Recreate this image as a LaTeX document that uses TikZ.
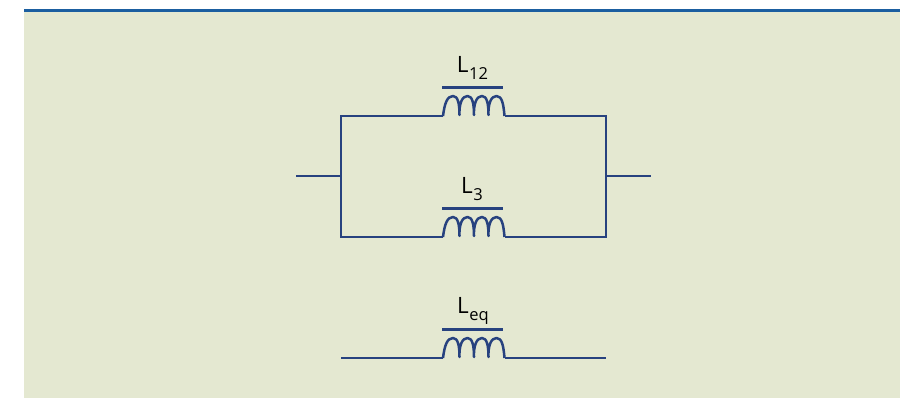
\documentclass[tikz,border=0pt]{standalone}
\usepackage{fontspec}
\setmainfont{Open Sans}
\definecolor{panel}{HTML}{E4E8D1}
\definecolor{bar}{HTML}{1B5EA0}
\definecolor{wire}{HTML}{27427F}
\newcommand{\lab}[2]{{\fontsize{22.5}{22.5}\selectfont L}\kern0.5pt{\fontsize{16.5}{16.5}\selectfont\raisebox{-7pt}{#2}}}
\tikzset{
  wireline/.style={draw=wire,line width=2.2pt,line join=miter},
  coilline/.style={draw=wire,line width=2.5pt,line join=round},
  barline/.style={draw=wire,line width=2.5pt},
  valuelabel/.style={inner sep=0pt,text=black,anchor=base}
}
% #1 name prefix, #2 baseline y; coil x range 443--504
\newcommand{\coil}[2]{%
  \coordinate (#1in) at (443,#2);
  \coordinate (#1out) at (504.5,#2);
  \draw[coilline] (#1in)
    .. controls (444.5,#2-12) and (447,#2-20) .. (453,#2-20)
    .. controls (458,#2-20) and (459.5,#2-12) .. (459.5,#2-1)
    .. controls (459,#2-12) and (462,#2-20) .. (467.5,#2-20)
    .. controls (472.5,#2-20) and (474,#2-12) .. (474,#2-1)
    .. controls (473.5,#2-12) and (476.5,#2-20) .. (482,#2-20)
    .. controls (487,#2-20) and (488.5,#2-12) .. (488.5,#2-1)
    .. controls (488,#2-12) and (491,#2-20) .. (496.5,#2-20)
    .. controls (502,#2-20) and (503.5,#2-12) .. (#1out);
  \coordinate (#1barl) at (442,#2-28.7);
  \coordinate (#1barr) at (503,#2-28.7);
  \draw[barline] (#1barl) -- (#1barr);
}
\begin{document}
\begin{tikzpicture}[x=1pt,y=-1pt]
\useasboundingbox (0,0) rectangle (900,398);
\fill[panel] (24,9) rectangle (900,398);
\fill[bar] (24,9) rectangle (900,12);
\coil{a}{116}
\coil{b}{237}
\coil{c}{358}
\node[valuelabel] (l12) at (472.5,72.5) {\lab{L}{12}};
\node[valuelabel] (l3) at (472,194) {\lab{L}{3}};
\node[valuelabel] (leq) at (473,313.5) {\lab{L}{eq}};
\coordinate (tl) at (341,116);
\coordinate (tr) at (606,116);
\coordinate (bl) at (341,237);
\coordinate (br) at (606,237);
\coordinate (ml) at (341,176);
\coordinate (mr) at (606,176);
\coordinate (il) at (296,176);
\coordinate (ir) at (651,176);
\coordinate (cl) at (341,358);
\coordinate (cr) at (606,358);
\draw[wireline] (ain) -- (tl) -- (bl) -- (bin);
\draw[wireline] (aout) -- (tr) -- (br) -- (bout);
\draw[wireline] (il) -- (ml);
\draw[wireline] (mr) -- (ir);
\draw[wireline] (cl) -- (cin);
\draw[wireline] (cout) -- (cr);
\end{tikzpicture}
\end{document}
